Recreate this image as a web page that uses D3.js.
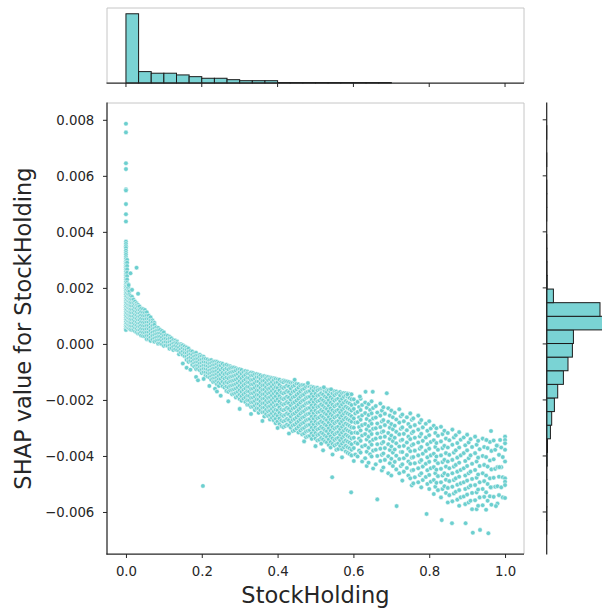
<!DOCTYPE html>
<html>
<head>
<meta charset="utf-8">
<script src="https://cdn.jsdelivr.net/npm/d3@7"></script>
<style>
  body { margin: 0; background: #fff; }
  svg { display: block; font-family: "DejaVu Sans", sans-serif; }
</style>
</head>
<body>
<svg id="chart" width="602" height="609"></svg>
<script>
// ---- data ----
const xTicks = [0, 0.2, 0.4, 0.6, 0.8, 1.0];
const yTicks = [-0.006, -0.004, -0.002, 0, 0.002, 0.004, 0.006, 0.008];

// StockHolding histogram: 30 bins of width 1/30 starting at 0
const stockBinCounts = [5000, 823, 707, 707, 583, 458, 342, 342, 240, 167, 167, 167,
  33, 33, 33, 33, 33, 33, 33, 33, 33, 0, 0, 0, 0, 0, 0, 0, 0, 0];

// SHAP histogram: 30 bins, from the lowest value upward
const shapBinLow = -0.00679;
const shapBinWidth = 0.000486;
const shapBinCounts = [3, 5, 3, 4, 2, 20, 32, 150, 202, 311, 445, 675, 861, 1039, 1080,
  2800, 2155, 271, 20, 12, 6, 2, 0, 1, 2, 2, 0, 2, 0, 2];

// scatter, grouped by StockHolding value; SHAP values in units of 1e-5
const bandColumns = [
  [0.000, [365,357,349,342,333,325,318,310,303,295,288,280,274,266,258,250,243,236,229,221,213,206,199,191,183,176,168,160,153,146,138,131,123,115,108,101,93,86,78,70,63,56,50]],
  [0.003, [300,290,278,266,254,242,230,218,206,194,182,170,158,146,134,122,110,98,86,74,62]],
  [0.006, [213,201,189,177,165,153,141,129,117,105,93,81,69,57]],
  [0.009, [187,175,163,151,139,127,115,103,91,79,67,55]],
  [0.012, [171,159,147,135,123,111,99,87,75,63,51]],
  [0.016, [168,158,146,134,122,110,98,86,74,62,50]],
  [0.020, [158,146,134,122,110,98,86,74,62,50]],
  [0.024, [151,141,129,117,105,93,81,69,57,45]],
  [0.028, [145,138,126,114,102,90,78,66,54,42]],
  [0.032, [139,133,121,109,97,85,73,61,49,37]],
  [0.036, [133,121,109,97,85,73,61,49,37]],
  [0.040, [126,114,102,90,78,66,54,42,30]],
  [0.045, [124,112,100,88,76,64,52,40,28]],
  [0.050, [121,111,99,87,75,63,51,39,27]],
  [0.055, [113,101,89,77,65,53,41,29,17]],
  [0.060, [101,89,77,65,53,41,29,17]],
  [0.065, [95,83,71,59,47,35,23,11]],
  [0.070, [84,77,65,53,41,29,17]],
  [0.075, [75,68,56,44,32,20,8]],
  [0.080, [59,47,35,23,11]],
  [0.085, [57,49,37,25,13,1]],
  [0.090, [50,38,26,14,2]],
  [0.095, [46,35,23,11,-1]],
  [0.100, [41,29,17,5,-7]],
  [0.105, [31,19,7,-5]],
  [0.110, [29,17,5,-7]],
  [0.115, [25,19,7,-5,-17]],
  [0.120, [20,9,-3,-15]],
  [0.125, [14,2,-10,-22]],
  [0.130, [12,5,-7,-19]],
  [0.135, [8,2,-10,-22]],
  [0.140, [-1,-13,-25,-37]],
  [0.145, [-1,-7,-19,-31]],
  [0.150, [-5,-15,-27,-39]],
  [0.155, [-9,-20,-32,-44]],
  [0.160, [-13,-21,-33,-45,-57]],
  [0.165, [-17,-28,-40,-52,-64]],
  [0.170, [-25,-37,-49,-61]],
  [0.175, [-27,-39,-51,-63,-75]],
  [0.180, [-33,-45,-57,-69,-81]],
  [0.185, [-32,-42,-54,-66,-78,-90]],
  [0.190, [-41,-53,-65,-77,-89]],
  [0.195, [-39,-46,-58,-70,-82,-94]],
  [0.200, [-44,-56,-68,-80,-92,-104]],
  [0.205, [-46,-53,-65,-77,-89,-101]],
  [0.210, [-54,-66,-78,-90,-102,-114]],
  [0.215, [-56,-68,-80,-92,-104,-116]],
  [0.220, [-59,-71,-83,-95,-107,-119]],
  [0.225, [-58,-68,-80,-92,-104,-116,-128]],
  [0.230, [-64,-76,-88,-100,-112,-124,-136]],
  [0.235, [-63,-75,-87,-99,-111,-123,-135]],
  [0.240, [-64,-72,-84,-96,-108,-120,-132,-144]],
  [0.245, [-67,-78,-90,-102,-114,-126,-138,-150]],
  [0.250, [-69,-77,-93,-109,-125,-141]],
  [0.255, [-71,-87,-103,-119,-135,-151]],
  [0.260, [-76,-92,-108,-124,-140,-156]],
  [0.265, [-75,-88,-104,-120,-136,-152,-168]],
  [0.270, [-78,-91,-107,-123,-139,-155,-171]],
  [0.275, [-80,-86,-102,-118,-134,-150,-166]],
  [0.280, [-84,-100,-116,-132,-148,-164,-180]],
  [0.285, [-84,-98,-114,-130,-146,-162,-178]],
  [0.290, [-87,-95,-111,-127,-143,-159,-175,-191]],
  [0.295, [-91,-107,-123,-139,-155,-171,-187]],
  [0.300, [-91,-101,-117,-133,-149,-165,-181,-197]],
  [0.305, [-93,-107,-123,-139,-155,-171,-187,-203]],
  [0.310, [-100,-116,-132,-148,-164,-180,-196]],
  [0.315, [-97,-111,-127,-143,-159,-175,-191,-207]],
  [0.320, [-99,-105,-121,-137,-153,-169,-185,-201,-217]],
  [0.325, [-106,-122,-138,-154,-170,-186,-202,-218]],
  [0.330, [-102,-113,-129,-145,-161,-177,-193,-209,-225]],
  [0.335, [-104,-112,-128,-144,-160,-176,-192,-208,-224]],
  [0.340, [-108,-124,-140,-156,-172,-188,-204,-220,-236]],
  [0.345, [-108,-118,-134,-150,-166,-182,-198,-214,-230]],
  [0.350, [-110,-118,-134,-150,-166,-182,-198,-214,-230,-246]],
  [0.355, [-112,-125,-141,-157,-173,-189,-205,-221,-237]],
  [0.360, [-116,-132,-148,-164,-180,-196,-212,-228,-244]],
  [0.365, [-115,-131,-147,-163,-179,-195,-211,-227,-243,-259]],
  [0.370, [-117,-123,-139,-155,-171,-187,-203,-219,-235,-251]],
  [0.375, [-118,-129,-145,-161,-177,-193,-209,-225,-241,-257]],
  [0.380, [-120,-126,-142,-158,-174,-190,-206,-222,-238,-254,-270]],
  [0.385, [-122,-136,-152,-168,-184,-200,-216,-232,-248,-264]],
  [0.390, [-123,-129,-145,-161,-177,-193,-209,-225,-241,-257,-273]],
  [0.395, [-125,-139,-155,-171,-187,-203,-219,-235,-251,-267,-283]],
  [0.400, [-127,-137,-157,-177,-197,-217,-237,-257,-277]],
  [0.405, [-128,-146,-166,-186,-206,-226,-246,-266,-286]],
  [0.410, [-134,-154,-174,-194,-214,-234,-254,-274,-294]],
  [0.415, [-131,-137,-157,-177,-197,-217,-237,-257,-277,-297]],
  [0.420, [-133,-153,-173,-193,-213,-233,-253,-273,-293]],
  [0.425, [-134,-148,-168,-188,-208,-228,-248,-268,-288]],
  [0.430, [-136,-152,-172,-192,-212,-232,-252,-272,-292]],
  [0.435, [-139,-159,-179,-199,-219,-239,-259,-279,-299]],
  [0.440, [-139,-151,-171,-191,-211,-231,-251,-271,-291,-311]],
  [0.445, [-140,-148,-168,-188,-208,-228,-248,-268,-288,-308]],
  [0.450, [-142,-162,-182,-202,-222,-242,-262,-282,-302]],
  [0.455, [-144,-156,-176,-196,-216,-236,-256,-276,-296,-316]],
  [0.460, [-149,-169,-189,-209,-229,-249,-269,-289,-309]],
  [0.465, [-147,-163,-183,-203,-223,-243,-263,-283,-303,-323]],
  [0.470, [-148,-160,-180,-200,-220,-240,-260,-280,-300,-320]],
  [0.475, [-153,-173,-193,-213,-233,-253,-273,-293,-313,-333]],
  [0.480, [-150,-170,-190,-210,-230,-250,-270,-290,-310,-330]],
  [0.485, [-152,-168,-188,-208,-228,-248,-268,-288,-308,-328]],
  [0.490, [-153,-159,-179,-199,-219,-239,-259,-279,-299,-319,-339]],
  [0.495, [-155,-167,-187,-207,-227,-247,-267,-287,-307,-327]],
  [0.500, [-158,-178,-198,-218,-238,-258,-278,-298,-318,-338]],
  [0.505, [-157,-165,-185,-205,-225,-245,-265,-285,-305,-325,-345]],
  [0.510, [-162,-182,-202,-222,-242,-262,-282,-302,-322,-342]],
  [0.515, [-160,-176,-196,-216,-236,-256,-276,-296,-316,-336,-356]],
  [0.520, [-161,-181,-201,-221,-241,-261,-281,-301,-321,-341]],
  [0.525, [-162,-168,-188,-208,-228,-248,-268,-288,-308,-328,-348]],
  [0.530, [-164,-172,-192,-212,-232,-252,-272,-292,-312,-332,-352]],
  [0.535, [-165,-181,-201,-221,-241,-261,-281,-301,-321,-341,-361]],
  [0.540, [-170,-190,-210,-230,-250,-270,-290,-310,-330,-350,-370]],
  [0.545, [-167,-177,-197,-217,-237,-257,-277,-297,-317,-337,-357]],
  [0.550, [-169,-183,-203,-223,-243,-263,-283,-303,-323,-343,-363]],
  [0.555, [-170,-178,-198,-218,-238,-258,-278,-298,-318,-338,-358,-378]],
  [0.560, [-175,-195,-215,-235,-255,-275,-295,-315,-335,-355,-375]],
  [0.565, [-172,-184,-204,-224,-244,-264,-284,-304,-324,-344,-364]],
  [0.570, [-176,-196,-216,-236,-256,-276,-296,-316,-336,-356,-376]],
  [0.575, [-175,-189,-209,-229,-249,-269,-289,-309,-329,-349,-369]],
  [0.580, [-176,-184,-204,-224,-244,-264,-284,-304,-324,-344,-364,-384]],
  [0.585, [-177,-189,-209,-229,-249,-269,-289,-309,-329,-349,-369,-389]],
  [0.590, [-179,-193,-213,-233,-253,-273,-293,-313,-333,-353,-373,-393]],
  [0.595, [-180,-198,-218,-238,-258,-278,-298,-318,-338,-358,-378,-398]],
  [0.601, [-198,-232,-266,-299,-335,-372,-418]], [0.605, [-214,-248,-281,-316,-352,-395]],
  [0.611, [-207,-243,-280,-318,-356,-402]], [0.615, [-225,-262,-297,-338,-381]],
  [0.619, [-196,-236,-271,-309,-346,-388]], [0.623, [-218,-255,-290,-327,-366,-420]],
  [0.631, [-209,-247,-286,-322,-362,-408]], [0.635, [-228,-268,-305,-341,-385,-436]],
  [0.640, [-215,-254,-293,-331,-371,-424]], [0.644, [-236,-275,-312,-350,-394]],
  [0.648, [-205,-248,-285,-322,-360,-402]], [0.652, [-229,-266,-303,-342,-381,-445]],
  [0.659, [-222,-263,-301,-338,-378,-430]], [0.663, [-245,-284,-320,-358,-400]],
  [0.671, [-213,-256,-297,-334,-374,-418]], [0.675, [-238,-277,-315,-355,-396,-452]],
  [0.679, [-226,-272,-312,-350,-391,-441]], [0.683, [-249,-290,-331,-372,-414]],
  [0.692, [-230,-278,-318,-358,-401,-462]], [0.696, [-256,-299,-339,-379,-426]],
  [0.700, [-238,-286,-327,-366,-410,-470]], [0.704, [-262,-305,-347,-388,-436]],
  [0.709, [-246,-292,-335,-377,-421]], [0.713, [-270,-314,-355,-399,-448]],
  [0.721, [-233,-281,-323,-366,-411,-462]], [0.725, [-258,-303,-345,-386,-436]],
  [0.729, [-252,-298,-342,-386,-430,-488]], [0.733, [-276,-321,-364,-408,-456]],
  [0.741, [-262,-308,-352,-397,-443]], [0.745, [-286,-331,-374,-420,-470]],
  [0.750, [-248,-296,-340,-383,-428,-480]], [0.754, [-271,-318,-362,-406,-452,-505]],
  [0.758, [-266,-313,-358,-404,-450,-498]], [0.762, [-290,-335,-381,-426,-476]],
  [0.771, [-256,-306,-352,-398,-444,-494]], [0.775, [-281,-330,-374,-421,-468]],
  [0.779, [-272,-321,-368,-415,-462,-512]], [0.783, [-298,-346,-392,-438,-486]],
  [0.791, [-285,-334,-382,-428,-475]], [0.795, [-310,-358,-405,-451,-500]],
  [0.800, [-276,-326,-374,-421,-468,-518]], [0.804, [-302,-350,-398,-444,-492]],
  [0.812, [-292,-344,-392,-440,-486,-536]], [0.816, [-318,-368,-416,-462,-510]],
  [0.819, [-301,-354,-402,-449,-496]], [0.823, [-328,-378,-426,-472,-522]],
  [0.831, [-296,-348,-398,-446,-494,-548]], [0.835, [-322,-372,-422,-470,-518]],
  [0.840, [-310,-364,-414,-462,-508]], [0.844, [-338,-390,-438,-485,-532]],
  [0.849, [-318,-370,-420,-468,-514,-566]], [0.853, [-344,-396,-444,-490,-540]],
  [0.861, [-306,-360,-414,-462,-510,-562]], [0.865, [-334,-388,-438,-486,-534]],
  [0.870, [-326,-380,-432,-480,-528]], [0.874, [-354,-406,-456,-503,-556]],
  [0.879, [-315,-370,-424,-474,-522,-578]], [0.883, [-342,-398,-450,-498,-548]],
  [0.891, [-334,-390,-444,-494,-545]], [0.895, [-362,-418,-470,-518,-572]],
  [0.900, [-324,-380,-436,-488,-538]], [0.904, [-352,-408,-462,-512,-566]],
  [0.909, [-340,-398,-456,-506,-560]], [0.913, [-368,-428,-482,-532,-590]],
  [0.921, [-331,-390,-450,-504,-558]], [0.925, [-360,-420,-478,-530,-590]],
  [0.929, [-346,-406,-466,-520,-578]], [0.933, [-376,-436,-494,-548]],
  [0.941, [-338,-400,-462,-518,-576]], [0.945, [-368,-432,-490,-546]],
  [0.950, [-343,-404,-470,-530,-592]], [0.954, [-372,-438,-500,-560]],
  [0.960, [-350,-416,-480,-544]], [0.964, [-382,-448,-512,-574]],
  [0.970, [-345,-412,-478,-546]], [0.974, [-378,-446,-510]],
  [0.980, [-363,-440,-508,-570]], [0.984, [-396,-474,-540]],
  [0.990, [-370,-440,-512]], [0.994, [-404,-476,-548]],
  [1.000, [-331,-343,-355,-378,-420,-480,-492,-504,-550]]
];

// isolated points, [StockHolding, SHAP in units of 1e-5]
const outliers = [
  [0.000, 786], [0.000, 755], [0.000, 645], [0.000, 624], [0.000, 552], [0.000, 548],
  [0.000, 499], [0.000, 463], [0.000, 437], [0.007, 210], [0.012, 252], [0.016, 193],
  [0.028, 272], [0.032, 179], [0.203, -507],
  [0.150, -70], [0.160, -85], [0.170, -92], [0.185, -118], [0.190, -130], [0.205, -125],
  [0.220, -150], [0.235, -160], [0.240, -170], [0.250, -185], [0.270, -205],
  [0.300, -232], [0.330, -250], [0.360, -275], [0.400, -300], [0.430, -320],
  [0.470, -348], [0.500, -365], [0.520, -380], [0.545, -395], [0.570, -405],
  [0.445, -128], [0.480, -140],
  [0.522, -155], [0.541, -162], [0.584, -180], [0.632, -171], [0.651, -171],
  [0.688, -176], [0.617, -188], [0.544, -476], [0.594, -530], [0.663, -555],
  [0.714, -579], [0.793, -607], [0.833, -629], [0.860, -640], [0.896, -640],
  [0.915, -674], [0.934, -664], [0.956, -676], [0.976, -579], [0.962, -512],
  [0.985, -440], [0.951, -343], [0.987, -343], [0.978, -363], [0.963, -311]
];

// ---- layout ----
const svg = d3.select("#chart");
const main = { left: 107, right: 524, top: 103, bottom: 554 };
const topM = { top: 8, bottom: 83 };
const rightM = { left: 546.7, right: 621.7 };

const fill = "#7ad3d4";
const pointFill = "#6ccfcf";
const dark = "#262626";
const light = "#c6c6c6";

const x = d3.scaleLinear().domain([-0.05, 1.05]).range([main.left, main.right]);
const y = d3.scaleLinear().domain([-0.0075, 0.0086]).range([main.bottom, main.top]);

const points = bandColumns.flatMap(([sx, vals]) => vals.map(v => [sx, v * 1e-5]))
  .concat(outliers.map(([sx, v]) => [sx, v * 1e-5]));

// ---- scatter ----
svg.append("g").selectAll("circle").data(points).join("circle")
  .attr("cx", d => x(d[0]))
  .attr("cy", d => y(d[1]))
  .attr("r", 2.3)
  .attr("fill", pointFill)
  .attr("stroke", "#fff")
  .attr("stroke-width", 0.5);

// ---- main axes ----
const fmt = d3.format(".3f");
const fmtX = d3.format(".1f");

const yAxis = svg.append("g")
  .attr("transform", `translate(${main.left},0)`)
  .call(d3.axisLeft(y).tickValues(yTicks).tickFormat(fmt).tickSize(4).tickPadding(8.7));
const xAxis = svg.append("g")
  .attr("transform", `translate(0,${main.bottom})`)
  .call(d3.axisBottom(x).tickValues(xTicks).tickFormat(fmtX).tickSize(4).tickPadding(8.5));

[yAxis, xAxis].forEach(g => {
  g.select(".domain").remove();
  g.selectAll(".tick line").attr("stroke", dark).attr("stroke-width", 1);
  g.selectAll(".tick text").attr("fill", dark).style("font-size", "13.3px")
    .style("font-family", "DejaVu Sans");
});

function line(x1, y1, x2, y2, color, w) {
  svg.append("line").attr("x1", x1).attr("y1", y1).attr("x2", x2).attr("y2", y2)
    .attr("stroke", color).attr("stroke-width", w);
}
// main spines
line(main.left, main.top, main.right, main.top, light, 1);
line(main.right, main.top, main.right, main.bottom, light, 1);
line(main.left, main.top - 0.5, main.left, main.bottom + 0.6, dark, 1.25);
line(main.left - 0.6, main.bottom, main.right, main.bottom, dark, 1.25);

// ---- top marginal: StockHolding histogram ----
const hx = d3.scaleLinear().domain([0, 5417]).range([topM.bottom, topM.top]);
const stockBins = stockBinCounts.map((c, i) => ({ x0: i / 30, x1: (i + 1) / 30, c }));
svg.append("g").selectAll("rect").data(stockBins.filter(b => b.c > 0)).join("rect")
  .attr("x", d => x(d.x0))
  .attr("width", d => x(d.x1) - x(d.x0))
  .attr("y", d => hx(d.c))
  .attr("height", d => topM.bottom - hx(d.c))
  .attr("fill", fill)
  .attr("stroke", "#1a1a1a")
  .attr("stroke-width", 1);

line(main.left, topM.top, main.right, topM.top, light, 1);
line(main.left, topM.top, main.left, topM.bottom, light, 1);
line(main.right, topM.top, main.right, topM.bottom, light, 1);
line(main.left - 0.5, topM.bottom, main.right, topM.bottom, dark, 1.25);
svg.append("g").selectAll("line").data(xTicks).join("line")
  .attr("x1", d => x(d)).attr("x2", d => x(d))
  .attr("y1", topM.bottom).attr("y2", topM.bottom + 4)
  .attr("stroke", dark).attr("stroke-width", 1);

// ---- right marginal: SHAP histogram ----
const hy = d3.scaleLinear().domain([0, 3033]).range([rightM.left, rightM.right]);
const shapBins = shapBinCounts.map((c, i) => ({
  y0: shapBinLow + i * shapBinWidth, y1: shapBinLow + (i + 1) * shapBinWidth, c }));
svg.append("g").selectAll("rect").data(shapBins).join("rect")
  .attr("x", rightM.left)
  .attr("width", d => hy(d.c) - rightM.left)
  .attr("y", d => y(d.y1))
  .attr("height", d => y(d.y0) - y(d.y1))
  .attr("fill", fill)
  .attr("stroke", "#1a1a1a")
  .attr("stroke-width", 1);

line(rightM.left, main.top - 0.5, rightM.left, main.bottom + 0.5, dark, 1.25);
svg.append("g").selectAll("line").data(yTicks).join("line")
  .attr("x1", rightM.left - 4).attr("x2", rightM.left)
  .attr("y1", d => y(d)).attr("y2", d => y(d))
  .attr("stroke", dark).attr("stroke-width", 1);

// ---- axis titles ----
svg.append("text")
  .attr("x", (main.left + main.right) / 2)
  .attr("y", 603)
  .attr("text-anchor", "middle")
  .attr("fill", dark)
  .style("font-size", "22.5px")
  .text("StockHolding");

svg.append("text")
  .attr("transform", `translate(31.4,${(main.top + main.bottom) / 2}) rotate(-90)`)
  .attr("text-anchor", "middle")
  .attr("fill", dark)
  .style("font-size", "22.5px")
  .text("SHAP value for StockHolding");
</script>
</body>
</html>
